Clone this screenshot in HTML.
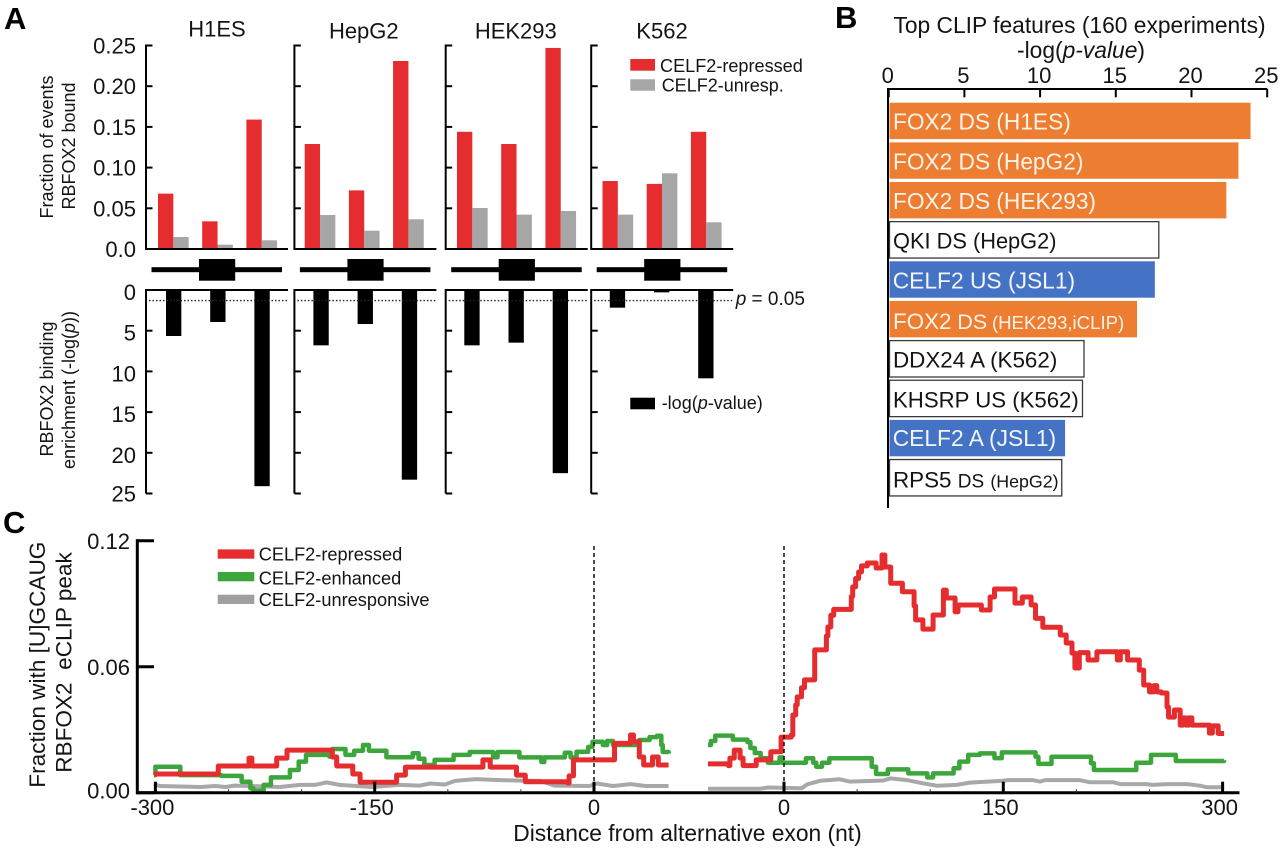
<!DOCTYPE html>
<html lang="en">
<head>
<meta charset="utf-8">
<title>CELF2 and RBFOX2 binding figure</title>
<style>
html,body{margin:0;padding:0;background:#fff;}
svg{display:block;}
text{font-family:"Liberation Sans",sans-serif;fill:#141414;}
.tick{font-size:22px;}
.panel-letter{font-size:31px;font-weight:700;fill:#000;}
</style>
</head>
<body>
<svg id="figure" width="1280" height="849" viewBox="0 0 1280 849">
<rect x="0" y="0" width="1280" height="849" fill="#fff"/>

<text class="panel-letter" x="4" y="29">A</text>
<text class="panel-letter" x="835" y="28">B</text>
<text class="panel-letter" x="3" y="533">C</text>

<text x="217" y="36.5" font-size="22" text-anchor="middle">H1ES</text>
<text x="363.8" y="38.5" font-size="22" text-anchor="middle">HepG2</text>
<text x="515.8" y="38.5" font-size="22" text-anchor="middle">HEK293</text>
<text x="662" y="38.5" font-size="22" text-anchor="middle">K562</text>

<text transform="translate(53,147) rotate(-90)" font-size="18" text-anchor="middle">Fraction of events</text>
<text transform="translate(75,146) rotate(-90)" font-size="18" text-anchor="middle">RBFOX2 bound</text>
<text transform="translate(53,389) rotate(-90)" font-size="18" text-anchor="middle">RBFOX2 binding</text>
<text transform="translate(75,390) rotate(-90)" font-size="18" text-anchor="middle">enrichment (-log(<tspan font-style="italic">p</tspan>))</text>

<g id="panel-a"></g>

<g>
<rect x="630.3" y="59" width="24.7" height="11.7" fill="#e52c2e"/>
<text x="660" y="72" font-size="18.1">CELF2-repressed</text>
<rect x="630.3" y="79.3" width="24.7" height="11.4" fill="#a6a6a6"/>
<text x="661.7" y="91.7" font-size="18">CELF2-unresp.</text>
<rect x="630.3" y="397.7" width="24.7" height="11.6" fill="#000"/>
<text x="661.7" y="409" font-size="18">-log(<tspan font-style="italic">p</tspan>-value)</text>
<text x="735.7" y="305" font-size="19"><tspan font-style="italic">p</tspan> = 0.05</text>
</g>

<text x="1079.5" y="33" font-size="22.8" text-anchor="middle">Top CLIP features (160 experiments)</text>
<text x="1081" y="58" font-size="22.8" text-anchor="middle">-log(<tspan font-style="italic">p-value</tspan>)</text>

<g id="panel-b"></g>

<g>
<text x="893" y="129.3" font-size="22.7" style="fill:#fdf3e8">FOX2 DS (H1ES)</text>
<text x="893" y="169.3" font-size="22.7" style="fill:#fdf3e8">FOX2 DS (HepG2)</text>
<text x="893" y="209" font-size="22.7" style="fill:#fdf3e8">FOX2 DS (HEK293)</text>
<text x="893" y="248.3" font-size="21.8">QKI DS (HepG2)</text>
<text x="892.7" y="288.3" font-size="22.8" style="fill:#f2f6fc">CELF2 US (JSL1)</text>
<text x="893" y="329" font-size="22.4" style="fill:#fdf3e8">FOX2 <tspan font-size="21.6" dx="-0.5">DS</tspan> <tspan font-size="18.6" dx="-1.5">(HEK293,iCLIP)</tspan></text>
<text x="893" y="367.7" font-size="22.4">DDX24 A (K562)</text>
<text x="893" y="407.7" font-size="22.2">KHSRP US (K562)</text>
<text x="892.7" y="446" font-size="22.8" style="fill:#f2f6fc">CELF2 A (JSL1)</text>
<text x="893" y="487.3" font-size="22.4">RPS5 <tspan font-size="19">DS</tspan> <tspan font-size="17.8">(HepG2)</tspan></text>
</g>

<text transform="translate(45,664.7) rotate(-90)" font-size="22.6" text-anchor="middle">Fraction with [U]GCAUG</text>
<text transform="translate(71.5,662.5) rotate(-90)" font-size="22.6" text-anchor="middle" style="white-space:pre">RBFOX2  eCLIP peak</text>
<text x="687.5" y="841" font-size="22.8" text-anchor="middle">Distance from alternative exon (nt)</text>

<g id="panel-c"></g>

<g>
<rect x="217.7" y="549.4" width="36.6" height="9.3" fill="#e52c2e"/>
<text x="258.7" y="560.7" font-size="18.2">CELF2-repressed</text>
<rect x="217.7" y="572" width="36.6" height="9.3" fill="#3ca63c"/>
<text x="258.7" y="584.3" font-size="18.2">CELF2-enhanced</text>
<rect x="217.7" y="594.7" width="36.6" height="9.3" fill="#a0a0a0"/>
<text x="258.7" y="606" font-size="18.2">CELF2-unresponsive</text>
</g>

<script>
/* ---------- Panel A data ---------- */
const cellLines = ['H1ES', 'HepG2', 'HEK293', 'K562'];
const exonRegions = ['upstream', 'exon', 'downstream'];
const repressedFraction = [
  [0.068, 0.034, 0.159],
  [0.129, 0.072, 0.231],
  [0.144, 0.129, 0.247],
  [0.0835, 0.080, 0.144]
];
const unresponsiveFraction = [
  [0.0147, 0.0053, 0.0107],
  [0.0418, 0.0225, 0.0365],
  [0.0504, 0.0422, 0.0467],
  [0.0422, 0.093, 0.0328]
];
const enrichmentLogP = [
  [5.65, 3.93, 24.1],
  [6.8, 4.18, 23.3],
  [6.8, 6.47, 22.5],
  [2.17, 0.29, 10.85]
];
const fractionTickLabels = ['0.0', '0.05', '0.10', '0.15', '0.20', '0.25'];
const enrichmentTickLabels = ['0', '5', '10', '15', '20', '25'];
const pThresholdLog = 1.3;

/* ---------- Panel B data ---------- */
const clipFeatures = ['fox2-h1es', 'fox2-hepg2', 'fox2-hek293', 'qki-hepg2', 'celf2-us-jsl1', 'fox2-iclip', 'ddx24-k562', 'khsrp-k562', 'celf2-a-jsl1', 'rps5-hepg2'];
const clipValues = [23.9, 23.1, 22.3, 17.84, 17.58, 16.4, 12.9, 12.8, 11.65, 11.43];
const clipGroups = ['fox2', 'fox2', 'fox2', 'other', 'celf2', 'fox2', 'other', 'other', 'celf2', 'other'];
const clipTickLabels = ['0', '5', '10', '15', '20', '25'];

/* ---------- Panel C data: nt distance and fraction ---------- */
const repressedUpNt = [-301, -257, -236, -234, -217, -210, -179, -176, -165, -160, -135, -129, -76, -71, -53, -47, -18, -17, -14, 14, 25, 27, 31, 34, 40, 44, 51];
const repressedUpVal = [0.0089, 0.0127, 0.0165, 0.0127, 0.0165, 0.0203, 0.0170, 0.0127, 0.0089, 0.0050, 0.0084, 0.0122, 0.0156, 0.0122, 0.0084, 0.0052, 0.0046, 0.0080, 0.0156, 0.0235, 0.0275, 0.0243, 0.0170, 0.0132, 0.0170, 0.0132, 0.0132];
const repressedDownNt = [-52, -38, -37, -34, -30, -28, -19, -9, -2, 5, 6, 8, 9, 12, 14, 21, 29, 30, 32, 34, 46, 47, 49, 51, 53, 57, 63, 67, 69, 73, 81, 89, 90, 95, 102, 109, 111, 117, 119, 135, 141, 144, 158, 163, 169, 172, 177, 189, 193, 197, 199, 202, 208, 214, 228, 230, 235, 243, 246, 250, 253, 255, 258, 262, 263, 267, 271, 273, 275, 277, 279, 291, 293, 297, 301];
const repressedDownVal = [0.0137, 0.0129, 0.0165, 0.0203, 0.0165, 0.0129, 0.0156, 0.0195, 0.0265, 0.0275, 0.0370, 0.0418, 0.0456, 0.0500, 0.0537, 0.0680, 0.0746, 0.0789, 0.0845, 0.0873, 0.0935, 0.0980, 0.1020, 0.1051, 0.1080, 0.1094, 0.1070, 0.1132, 0.1075, 0.0997, 0.0957, 0.0889, 0.0823, 0.0779, 0.0846, 0.0965, 0.0927, 0.0862, 0.0894, 0.0870, 0.0932, 0.0970, 0.0903, 0.0932, 0.0894, 0.0830, 0.0788, 0.0751, 0.0713, 0.0665, 0.0594, 0.0667, 0.0632, 0.0671, 0.0632, 0.0671, 0.0632, 0.0584, 0.0513, 0.0480, 0.0510, 0.0480, 0.0475, 0.0408, 0.0360, 0.0394, 0.0322, 0.0356, 0.0322, 0.0356, 0.0322, 0.0284, 0.0318, 0.0282, 0.0282];

const enhancedUpNt = [-301, -300, -283, -255, -241, -235, -233, -226, -221, -208, -202, -197, -181, -179, -170, -164, -158, -154, -142, -124, -120, -116, -109, -96, -85, -69, -66, -51, -36, -34, -20, -16, -12, -4, -1, 6, 9, 13, 31, 38, 43, 46, 47, 51];
const enhancedUpVal = [0.0084, 0.0124, 0.0084, 0.0080, 0.0052, 0.0021, 0.0010, 0.0037, 0.0073, 0.0108, 0.0148, 0.0180, 0.0172, 0.0208, 0.0180, 0.0200, 0.0227, 0.0200, 0.0169, 0.0188, 0.0162, 0.0132, 0.0156, 0.0180, 0.0194, 0.0169, 0.0194, 0.0168, 0.0146, 0.0168, 0.0190, 0.0168, 0.0195, 0.0218, 0.0243, 0.0227, 0.0246, 0.0227, 0.0251, 0.0265, 0.0271, 0.0227, 0.0194, 0.0186];
const enhancedDownNt = [-52, -50, -47, -35, -25, -23, -20, -16, -11, -3, -1, 15, 20, 22, 26, 31, 60, 63, 71, 85, 98, 102, 116, 120, 126, 134, 144, 149, 172, 174, 183, 210, 212, 241, 251, 268, 301];
const enhancedDownVal = [0.0227, 0.0246, 0.0272, 0.0253, 0.0241, 0.0213, 0.0189, 0.0165, 0.0143, 0.0168, 0.0143, 0.0164, 0.0143, 0.0124, 0.0143, 0.0164, 0.0124, 0.0089, 0.0111, 0.0092, 0.0073, 0.0092, 0.0116, 0.0148, 0.0180, 0.0187, 0.0165, 0.0192, 0.0171, 0.0137, 0.0171, 0.0140, 0.0108, 0.0143, 0.0180, 0.0151, 0.0155];

const unresponsiveUpNt = [-301, -297, -269, -259, -252, -246, -235, -215, -201, -191, -183, -174, -152, -133, -119, -112, -102, -95, -81, -64, -54, -37, -27, -3, 2, 13, 25, 35, 51];
const unresponsiveUpVal = [0.0041, 0.0032, 0.0027, 0.0032, 0.0027, 0.0034, 0.0032, 0.0027, 0.0037, 0.0037, 0.0049, 0.0037, 0.0027, 0.0037, 0.0034, 0.0044, 0.0039, 0.0056, 0.0065, 0.0060, 0.0058, 0.0056, 0.0034, 0.0032, 0.0044, 0.0032, 0.0041, 0.0032, 0.0032];
const unresponsiveDownNt = [-52, -16, -11, 12, 16, 25, 38, 45, 68, 73, 84, 95, 105, 118, 127, 150, 153, 170, 175, 179, 202, 209, 225, 230, 248, 252, 262, 276, 285, 289, 301];
const unresponsiveDownVal = [0.0019, 0.0019, 0.0025, 0.0021, 0.0040, 0.0057, 0.0064, 0.0053, 0.0058, 0.0068, 0.0060, 0.0045, 0.0033, 0.0037, 0.0048, 0.0057, 0.0060, 0.0060, 0.0053, 0.0060, 0.0060, 0.0050, 0.0050, 0.0041, 0.0041, 0.0037, 0.0041, 0.0041, 0.0033, 0.0026, 0.0026];

const fractionCTickLabels = ['0.00', '0.06', '0.12'];
const distanceTickLabelsUp = ['-300', '-150', '0'];
const distanceTickLabelsDown = ['0', '150', '300'];
const minorTicksUp = [-250, -200, -100, -50];
const minorTicksDown = [50, 100, 200, 250];

/* ---------- Scales ---------- */
const yFraction = v => 249 - v * 814;
const yEnrichment = v => 290 + v * 8.14;
const xClip = v => 888.7 + v * 15.14;
const yC = v => 792.7 - v * 2100;
const xCUp = nt => 594 + nt * 1.462;
const xCDown = nt => 784 + nt * 1.462;
const facetLeft = i => 146 + 148.4 * i + (i === 2 ? 2.9 : 0);
const redStart = i => facetLeft(i) + (i === 0 ? 12 : i === 1 ? 10.3 : 11.3);
const blackStart = i => facetLeft(i) + (i === 0 ? 20 : i === 1 ? 19 : 18.6);

const svgRoot = document.getElementById('figure');
const svgNs = svgRoot.namespaceURI;
function make(tag, attrs, parent, text) {
  const el = document.createElementNS(svgNs, tag);
  for (const k in attrs) el.setAttribute(k, attrs[k]);
  if (text !== undefined) el.textContent = text;
  parent.appendChild(el);
  return el;
}

/* ---------- Panel A ---------- */
const panelA = document.getElementById('panel-a');
const barW = 15.33, groupStep = 44.2, facetW = 142;

cellLines.forEach((cell, c) => {
  const x0 = facetLeft(c);
  const key = cell.toLowerCase();

  exonRegions.forEach((region, r) => {
    const rx = redStart(c) + r * groupStep;
    const red = make('rect', {x: rx, y: yFraction(repressedFraction[c][r]), width: barW, height: yFraction(0) - yFraction(repressedFraction[c][r]), fill: '#e52c2e'}, panelA);
    
    
    const gray = make('rect', {x: rx + barW, y: yFraction(unresponsiveFraction[c][r]), width: barW, height: yFraction(0) - yFraction(unresponsiveFraction[c][r]), fill: '#a6a6a6'}, panelA);
    
    
    const black = make('rect', {x: blackStart(c) + r * groupStep, y: yEnrichment(0), width: barW, height: yEnrichment(enrichmentLogP[c][r]) - yEnrichment(0), fill: '#000'}, panelA);
    
    
  });

  const upperAxis = make('path', {d: `M${x0} ${yFraction(0.25) - 1}V${yFraction(0)}H${x0 + facetW}`, fill: 'none', stroke: '#000', 'stroke-width': 2}, panelA);
  
  
  const lowerAxis = make('path', {d: `M${x0 + facetW} ${yEnrichment(0)}H${x0}V${yEnrichment(25)}`, fill: 'none', stroke: '#000', 'stroke-width': 2}, panelA);
  
  

  fractionTickLabels.forEach(label => {
    const y = yFraction(parseFloat(label));
    const tick = make('line', {x1: x0, x2: x0 + 6.5, y1: y, y2: y, stroke: '#000', 'stroke-width': 2}, panelA);
    
    
    if (c === 0) {
      const t = make('text', {x: 136, y: y + 8, 'text-anchor': 'end', class: 'tick'}, panelA, label);
      
      
    }
  });
  enrichmentTickLabels.forEach(label => {
    const y = yEnrichment(parseFloat(label));
    const tick = make('line', {x1: x0, x2: x0 + 6.5, y1: y, y2: y, stroke: '#000', 'stroke-width': 2}, panelA);
    
    
    if (c === 0) {
      const t = make('text', {x: 136, y: y + (label === '25' ? 8 : 10), 'text-anchor': 'end', class: 'tick'}, panelA, label);
      
      
    }
  });

  const dotted = make('line', {x1: x0 + 3, x2: x0 + facetW + (c === 3 ? 1 : 0), y1: yEnrichment(pThresholdLog), y2: yEnrichment(pThresholdLog), stroke: '#222', 'stroke-width': 1.3, 'stroke-dasharray': '1.5 2'}, panelA);
  
  

  const intron = make('rect', {x: x0 + 5.5, y: 267.2, width: 130.5, height: 5, fill: '#000'}, panelA);
  
  
  const exon = make('rect', {x: x0 + 53, y: 259, width: 36.2, height: 21.7, fill: '#000'}, panelA);
  
  
});

/* ---------- Panel B ---------- */
const panelB = document.getElementById('panel-b');
const clipFill = group => group === 'fox2' ? '#ed7d31' : group === 'celf2' ? '#4472c4' : '#fff';
clipFeatures.forEach((feature, i) => {
  const top = 102.7 + i * 39.65;
  const outlined = clipGroups[i] === 'other';
  const bar = make('rect', {x: 889.5, y: top, width: xClip(clipValues[i]) - 889.5, height: 36.4, fill: clipFill(clipGroups[i]), stroke: outlined ? '#3a3a3a' : 'none', 'stroke-width': outlined ? 1.3 : 0}, panelB);
  
  
});
const clipAxis = make('path', {d: `M${xClip(0) - 0.7} 508V89H${xClip(25)}`, fill: 'none', stroke: '#000', 'stroke-width': 2}, panelB);


clipTickLabels.forEach(label => {
  const x = xClip(parseFloat(label));
  const tick = make('line', {x1: x, x2: x, y1: 89, y2: 97.3, stroke: '#000', 'stroke-width': 2}, panelB);
  
  
  const t = make('text', {x: x - 1, y: 83, 'text-anchor': 'middle', class: 'tick'}, panelB, label);
  
  
});

/* ---------- Panel C ---------- */
const panelC = document.getElementById('panel-c');
function stepPath(ntValues, fracValues, xScale) {
  let d = `M${xScale(ntValues[0]).toFixed(1)} ${yC(fracValues[0]).toFixed(1)}`;
  for (let i = 1; i < ntValues.length; i++) {
    d += `H${xScale(ntValues[i]).toFixed(1)}V${yC(fracValues[i]).toFixed(1)}`;
  }
  return d;
}
function linePath(ntValues, fracValues, xScale) {
  return ntValues.map((nt, i) => `${i ? 'L' : 'M'}${xScale(nt).toFixed(1)} ${yC(fracValues[i]).toFixed(1)}`).join('');
}
const grayUp = make('path', {d: linePath(unresponsiveUpNt, unresponsiveUpVal, xCUp), fill: 'none', stroke: '#a8a8a8', 'stroke-width': 4, 'stroke-linejoin': 'round'}, panelC);


const grayDown = make('path', {d: linePath(unresponsiveDownNt, unresponsiveDownVal, xCDown), fill: 'none', stroke: '#a8a8a8', 'stroke-width': 4, 'stroke-linejoin': 'round'}, panelC);


const greenUp = make('path', {d: stepPath(enhancedUpNt, enhancedUpVal, xCUp), fill: 'none', stroke: '#3ca63c', 'stroke-width': 4.5, 'stroke-linejoin': 'round'}, panelC);


const greenDown = make('path', {d: stepPath(enhancedDownNt, enhancedDownVal, xCDown), fill: 'none', stroke: '#3ca63c', 'stroke-width': 4.5, 'stroke-linejoin': 'round'}, panelC);


const redUp = make('path', {d: stepPath(repressedUpNt, repressedUpVal, xCUp), fill: 'none', stroke: '#e52c2e', 'stroke-width': 5, 'stroke-linejoin': 'round'}, panelC);


const redDown = make('path', {d: stepPath(repressedDownNt, repressedDownVal, xCDown), fill: 'none', stroke: '#e52c2e', 'stroke-width': 5, 'stroke-linejoin': 'round'}, panelC);



const dashUp = make('line', {x1: xCUp(0), x2: xCUp(0), y1: 546, y2: 790, stroke: '#111', 'stroke-width': 1.5, 'stroke-dasharray': '4 3'}, panelC);


const dashDown = make('line', {x1: xCDown(0), x2: xCDown(0), y1: 546, y2: 790, stroke: '#111', 'stroke-width': 1.5, 'stroke-dasharray': '4 3'}, panelC);



const cAxisY = make('line', {x1: 137.3, x2: 137.3, y1: yC(0.12) - 1.5, y2: yC(0) + 1.5, stroke: '#000', 'stroke-width': 3}, panelC);


const cAxisX = make('line', {x1: 136, x2: 1239.5, y1: yC(0), y2: yC(0), stroke: '#000', 'stroke-width': 3}, panelC);



fractionCTickLabels.forEach(label => {
  const y = yC(parseFloat(label));
  const tick = make('line', {x1: 137, x2: 154, y1: y, y2: y, stroke: '#000', 'stroke-width': 3}, panelC);
  
  
  const t = make('text', {x: 130, y: y + (label === '0.00' ? 6 : 8.5), 'text-anchor': 'end', class: 'tick'}, panelC, label);
  
  
});
function drawMajorTicks(labels, xScale) {
  labels.forEach(label => {
    const x = xScale(parseFloat(label));
    const tick = make('line', {x1: x, x2: x, y1: yC(0) - 11, y2: yC(0), stroke: '#000', 'stroke-width': 3}, panelC);
    
    
    const t = make('text', {x: x - (label === '0' ? 0 : 3), y: 815, 'text-anchor': 'middle', class: 'tick'}, panelC, label);
    
    
  });
}
drawMajorTicks(distanceTickLabelsUp, xCUp);
drawMajorTicks(distanceTickLabelsDown, xCDown);
function drawMinorTicks(values, xScale) {
  values.forEach(v => {
    const tick = make('line', {x1: xScale(v), x2: xScale(v), y1: yC(0) - 3.5, y2: yC(0), stroke: '#333', 'stroke-width': 1}, panelC);
    
    
  });
}
drawMinorTicks(minorTicksUp, xCUp);
drawMinorTicks(minorTicksDown, xCDown);
</script>
</svg>
</body>
</html>
